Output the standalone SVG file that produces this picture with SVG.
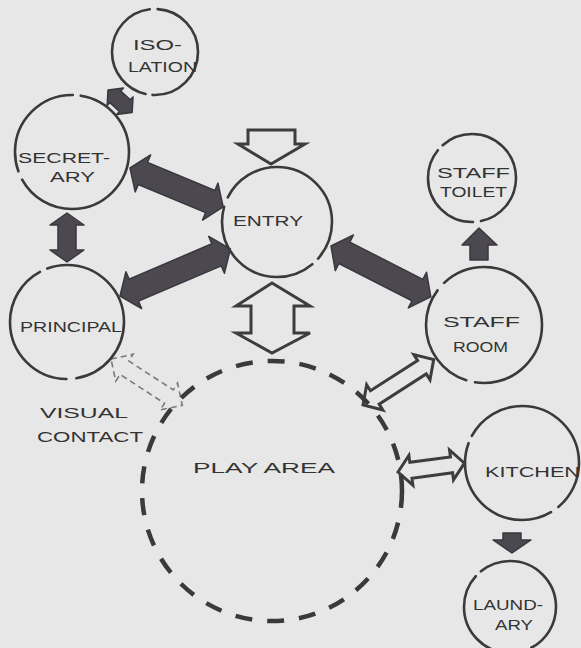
<svg xmlns="http://www.w3.org/2000/svg" width="581" height="648" viewBox="0 0 581 648">
<style>
.bub{fill:none;stroke:#3a3a3a;stroke-width:2.6;stroke-linecap:round}
.play{fill:none;stroke:#3a3a3a;stroke-width:4.5;stroke-dasharray:17 15;stroke-linecap:butt}
.dark{fill:#4b4850;stroke:#3a373e;stroke-width:1.5;stroke-linejoin:round}
.hollow{fill:none;stroke:#3d3d3d;stroke-width:3;stroke-linejoin:miter}
.dashed{fill:none;stroke:#7a7a7a;stroke-width:1.6;stroke-dasharray:6 4}
.lbl{font-family:"Liberation Sans",Arial,sans-serif;font-size:14px;fill:#333;text-anchor:start}
</style>
<rect width="581" height="648" fill="#e7e7e7"/>
<g id="connectors">
  <polygon class="dark" transform="translate(108,90) rotate(43)" points="0,0 10,-12 10,-8 23,-8 23,-12 33,0 23,12 23,8 10,8 10,12"/>
  <polygon class="dark" transform="translate(130,168) rotate(22.7)" points="0,0 14,-20 14,-12 87,-12 87,-20 101,0 87,20 87,12 14,12 14,20"/>
  <polygon class="dark" transform="translate(67,213) rotate(90)" points="0,0 12,-17 12,-9 37,-9 37,-17 49,0 37,17 37,9 12,9 12,17"/>
  <polygon class="dark" transform="translate(120,296) rotate(-23.1)" points="0,0 15,-20 15,-12 105,-12 105,-20 120,0 105,20 105,12 15,12 15,20"/>
  <polygon class="dark" transform="translate(331,246) rotate(27)" points="0,0 15,-20 15,-12 97,-12 97,-20 112,0 97,20 97,12 15,12 15,20"/>
  <polygon class="dark" points="479,228 462,245 470,245 470,260 488,260 488,245 497,245"/>
  <polygon class="dark" points="503,533 521,533 521,540 531,540 512,553 493,540 503,540"/>
  <polygon class="hollow" points="248,130 295,130 295,144 305,144 271,164 238,144 248,144"/>
  <polygon class="hollow" points="272,283 310,306 294,306 294,333 310,333 272,353 236,333 251,333 251,306 236,306"/>
  <polygon class="hollow" transform="translate(363,405) rotate(-32.7)" points="0,0 14,-15 14,-8 70,-8 70,-15 84,0 70,15 70,8 14,8 14,15"/>
  <polygon class="hollow" transform="translate(398,472) rotate(-7.6)" points="0,0 13,-15 13,-8 54,-8 54,-15 67,0 54,15 54,8 13,8 13,15"/>
  <polygon class="dashed" transform="translate(111,359) rotate(33)" points="0,0 16,-16 16,-8 69,-8 69,-16 85,0 69,16 69,8 16,8 16,16"/>
</g>
<g id="isolation">
  <circle class="bub" cx="155" cy="52" r="43" stroke-dasharray="70 7 120 8 200"/>
  <text class="lbl" x="133" y="50" font-size="13" textLength="49" lengthAdjust="spacingAndGlyphs">ISO-</text>
  <text class="lbl" x="128" y="72" font-size="13" textLength="69" lengthAdjust="spacingAndGlyphs">LATION</text>
</g>
<g id="secretary">
  <circle class="bub" cx="72" cy="152" r="57" stroke-dasharray="150 9 110 8 200"/>
  <text class="lbl" x="18" y="163" font-size="13" textLength="92" lengthAdjust="spacingAndGlyphs">SECRET-</text>
  <text class="lbl" x="50" y="182" font-size="13" textLength="45" lengthAdjust="spacingAndGlyphs">ARY</text>
</g>
<g id="entry">
  <circle class="bub" cx="277" cy="222" r="55" stroke-dasharray="60 8 140 10 200" stroke-dashoffset="20"/>
  <text class="lbl" x="233" y="226" font-size="15" textLength="70" lengthAdjust="spacingAndGlyphs">ENTRY</text>
</g>
<g id="principal">
  <circle class="bub" cx="67" cy="322" r="57" stroke-dasharray="120 10 150 8 200" stroke-dashoffset="40"/>
  <text class="lbl" x="20" y="332" font-size="14" textLength="102" lengthAdjust="spacingAndGlyphs">PRINCIPAL</text>
</g>
<g id="staff-toilet">
  <circle class="bub" cx="472" cy="178" r="44" stroke-dasharray="90 8 100 7 200" stroke-dashoffset="30"/>
  <text class="lbl" x="437" y="178" font-size="13" textLength="73" lengthAdjust="spacingAndGlyphs">STAFF</text>
  <text class="lbl" x="440" y="197" font-size="13" textLength="67" lengthAdjust="spacingAndGlyphs">TOILET</text>
</g>
<g id="staff-room">
  <circle class="bub" cx="484" cy="325" r="58" stroke-dasharray="160 9 110 10 200" stroke-dashoffset="60"/>
  <text class="lbl" x="443" y="327" font-size="15" textLength="77" lengthAdjust="spacingAndGlyphs">STAFF</text>
  <text class="lbl" x="453" y="352" font-size="15" textLength="55" lengthAdjust="spacingAndGlyphs">ROOM</text>
</g>
<g id="kitchen">
  <circle class="bub" cx="522" cy="463" r="57" stroke-dasharray="130 9 140 8 200" stroke-dashoffset="80"/>
  <text class="lbl" x="485" y="477" font-size="15" textLength="95" lengthAdjust="spacingAndGlyphs">KITCHEN</text>
</g>
<g id="laundry">
  <circle class="bub" cx="510" cy="607" r="46" stroke-dasharray="100 8 120 7 200" stroke-dashoffset="50"/>
  <text class="lbl" x="473" y="610" font-size="13" textLength="70" lengthAdjust="spacingAndGlyphs">LAUND-</text>
  <text class="lbl" x="495" y="630" font-size="13" textLength="38" lengthAdjust="spacingAndGlyphs">ARY</text>
</g>
<g id="play-area">
  <circle class="play" cx="272" cy="491" r="130"/>
  <text class="lbl" x="193" y="473" font-size="16" textLength="142" lengthAdjust="spacingAndGlyphs">PLAY AREA</text>
</g>
<g id="visual-contact">
  <text class="lbl" x="40" y="418" font-size="14" textLength="88" lengthAdjust="spacingAndGlyphs">VISUAL</text>
  <text class="lbl" x="37" y="442" font-size="14" textLength="106" lengthAdjust="spacingAndGlyphs">CONTACT</text>
</g>
</svg>
